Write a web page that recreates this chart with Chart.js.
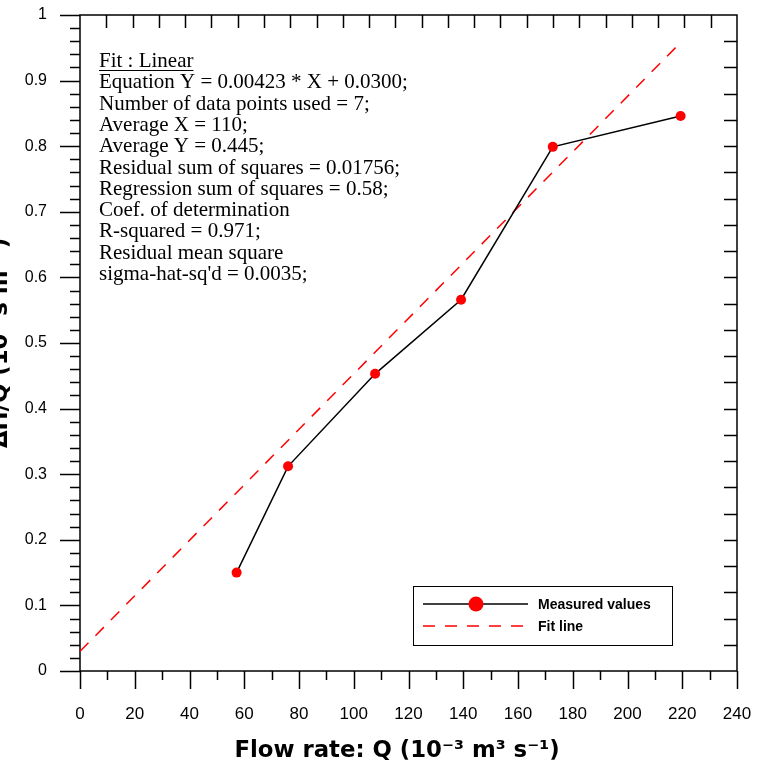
<!DOCTYPE html>
<html>
<head>
<meta charset="utf-8">
<script src="https://cdn.jsdelivr.net/npm/chart.js@4.4.1/dist/chart.umd.min.js"></script>
<style>
  html, body { margin: 0; padding: 0; background: #fff; }
  #wrap { width: 762px; height: 764px; position: relative; }
</style>
</head>
<body>
<div id="wrap"><canvas id="c" width="762" height="764"></canvas></div>
<script>
// Measured head-loss ratio against flow rate
const flowRate = [57.2, 76.0, 107.8, 139.2, 172.7, 219.4];
const headLossRatio = [0.150, 0.312, 0.453, 0.566, 0.799, 0.846];

// Linear fit line end points (Y = 0.00423 * X + 0.0300)
const fitX = [0, 220];
const fitY = [0.0300, 0.9606];

// Axis tick labels
const xTickLabels = ['0', '20', '40', '60', '80', '100', '120', '140', '160', '180', '200', '220', '240'];
const yTickLabels = ['0', '0.1', '0.2', '0.3', '0.4', '0.5', '0.6', '0.7', '0.8', '0.9', '1'];

// Regression report lines
const fitTitle = 'Fit : Linear';
const fitReport = [
  'Equation Y = 0.00423 * X + 0.0300;',
  'Number of data points used = 7;',
  'Average X = 110;',
  'Average Y = 0.445;',
  'Residual sum of squares = 0.01756;',
  'Regression sum of squares = 0.58;',
  'Coef. of determination',
  'R-squared = 0.971;',
  'Residual mean square',
  "sigma-hat-sq'd = 0.0035;"
];

const legendLabels = ['Measured values', 'Fit line'];
const xTitle = 'Flow rate: Q (10\u207B\u00B3 m\u00B3 s\u207B\u00B9)';
const yTitle = '\u0394H/Q (10\u00B3 s m\u207B\u00B2)';

const measuredPoints = flowRate.map((x, i) => ({ x, y: headLossRatio[i] }));
const fitPoints = fitX.map((x, i) => ({ x, y: fitY[i] }));

const FIT_DASH = [12, 10];

// Frame, tick marks, titles, report text and legend
const decorations = {
  id: 'decorations',
  beforeDatasetsDraw(chart) {
    const { ctx, chartArea: a, scales: { x, y } } = chart;
    ctx.save();
    ctx.strokeStyle = '#000';
    ctx.lineWidth = 1.5;
    ctx.beginPath();
    // left axis: major every 0.1 (outward 20), minor every 0.02 (outward 10)
    for (let i = 0; i <= 50; i++) {
      const py = Math.round(y.getPixelForValue(i / 50)) + 0.5;
      const len = i % 5 === 0 ? 20 : 10;
      ctx.moveTo(a.left - len, py);
      ctx.lineTo(a.left, py);
    }
    // bottom axis: major every 20 (outward 18), minor every 10 (outward 9)
    for (let i = 0; i <= 24; i++) {
      const px = Math.round(x.getPixelForValue(i * 10)) + 0.5;
      const len = i % 2 === 0 ? 18 : 9;
      ctx.moveTo(px, a.bottom);
      ctx.lineTo(px, a.bottom + len);
    }
    // top and right axes: 25 equal divisions, inward ticks
    for (let i = 1; i < 25; i++) {
      const px = Math.round(x.getPixelForValue(i * 240 / 25)) + 0.5;
      ctx.moveTo(px, a.top);
      ctx.lineTo(px, a.top + 13);
      const py = Math.round(y.getPixelForValue(i / 25)) + 0.5;
      ctx.moveTo(a.right, py);
      ctx.lineTo(a.right - 13, py);
    }
    ctx.stroke();
    ctx.strokeRect(a.left, a.top, a.right - a.left, a.bottom - a.top);
    ctx.restore();
  },
  afterDraw(chart) {
    const { ctx, chartArea: a } = chart;
    ctx.save();
    ctx.fillStyle = '#000';

    // axis titles
    ctx.font = 'bold 22.8px "DejaVu Sans"';
    ctx.textAlign = 'center';
    ctx.textBaseline = 'alphabetic';
    ctx.fillText(xTitle, 397, 757);
    ctx.save();
    ctx.translate(7, (a.top + a.bottom) / 2);
    ctx.rotate(-Math.PI / 2);
    ctx.fillText(yTitle, 0, 0);
    ctx.restore();

    // regression report
    ctx.textAlign = 'left';
    ctx.font = '21px "Liberation Serif"';
    const tx = 99, base = 67, step = 21.3;
    ctx.fillText(fitTitle, tx, base);
    const w = ctx.measureText(fitTitle).width;
    ctx.lineWidth = 1;
    ctx.strokeStyle = '#000';
    ctx.beginPath();
    ctx.moveTo(tx, base + 3.5);
    ctx.lineTo(tx + w, base + 3.5);
    ctx.stroke();
    fitReport.forEach((line, i) => ctx.fillText(line, tx, base + step * (i + 1)));

    // legend
    const L = 413.5, T = 586.5, R = 672.5, B = 645.5;
    ctx.strokeStyle = '#000';
    ctx.lineWidth = 1;
    ctx.strokeRect(L, T, R - L, B - T);
    const r1 = 604, r2 = 626;
    ctx.lineWidth = 1.5;
    ctx.beginPath();
    ctx.moveTo(423, r1);
    ctx.lineTo(528, r1);
    ctx.stroke();
    ctx.fillStyle = '#ff0000';
    ctx.beginPath();
    ctx.arc(476, r1, 7.5, 0, Math.PI * 2);
    ctx.fill();
    ctx.strokeStyle = '#ff0000';
    ctx.setLineDash(FIT_DASH);
    ctx.beginPath();
    ctx.moveTo(423, r2);
    ctx.lineTo(528, r2);
    ctx.stroke();
    ctx.setLineDash([]);
    ctx.fillStyle = '#000';
    ctx.font = 'bold 14px "Liberation Sans"';
    ctx.textBaseline = 'middle';
    ctx.fillText(legendLabels[0], 538, r1 + 1);
    ctx.fillText(legendLabels[1], 538, r2 + 1);
    ctx.restore();
  }
};

new Chart(document.getElementById('c'), {
  type: 'scatter',
  data: {
    datasets: [
      {
        label: legendLabels[1],
        data: fitPoints,
        showLine: true,
        borderColor: '#ff0000',
        borderWidth: 1.5,
        borderDash: FIT_DASH,
        pointRadius: 0,
        fill: false,
        order: 2
      },
      {
        label: legendLabels[0],
        data: measuredPoints,
        showLine: true,
        borderColor: '#000000',
        borderWidth: 1.5,
        pointRadius: 5,
        pointBackgroundColor: '#ff0000',
        pointBorderWidth: 0,
        fill: false,
        order: 1
      }
    ]
  },
  options: {
    responsive: false,
    animation: false,
    devicePixelRatio: 1,
    layout: { padding: { top: 15, right: 25, left: 0, bottom: 0 } },
    plugins: { legend: { display: false }, tooltip: { enabled: false } },
    scales: {
      x: {
        type: 'linear',
        position: 'bottom',
        min: 0,
        max: 240,
        grid: { display: false, drawTicks: false },
        border: { display: false },
        afterFit(s) { s.height = 93; s.paddingLeft = 0; s.paddingRight = 0; },
        ticks: {
          stepSize: 20,
          autoSkip: false,
          maxRotation: 0,
          padding: 33,
          color: '#000',
          font: { family: '"Liberation Sans Narrow", "Liberation Sans"', size: 17 },
          callback: (v, i) => xTickLabels[i]
        }
      },
      y: {
        type: 'linear',
        min: 0,
        max: 1,
        grid: { display: false, drawTicks: false },
        border: { display: false },
        afterFit(s) { s.width = 80; s.paddingTop = 0; s.paddingBottom = 0; },
        ticks: {
          stepSize: 0.1,
          autoSkip: false,
          padding: 33,
          color: '#000',
          font: { family: '"Liberation Sans"', size: 16 },
          callback: (v, i) => yTickLabels[i]
        }
      }
    }
  },
  plugins: [decorations]
});
</script>
</body>
</html>
